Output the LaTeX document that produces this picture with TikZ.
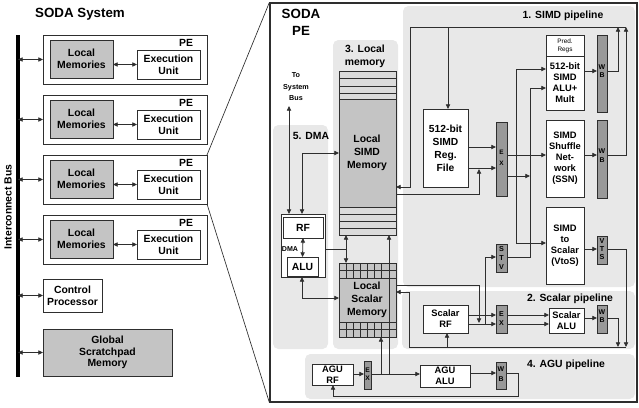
\documentclass[tikz,border=0pt]{standalone}
\usepackage{fontspec}
\setmainfont{Liberation Sans}
\usetikzlibrary{arrows.meta}
\definecolor{regc}{gray}{0.91}
\definecolor{memc}{gray}{0.77}
\definecolor{stripc}{gray}{0.86}
\definecolor{barc}{gray}{0.6}
\definecolor{linec}{gray}{0.18}
\newcommand\sodaT{\fontsize{10}{12.75}\selectfont\bfseries}
\newcommand\sodaA{\fontsize{7.8}{8.8}\selectfont\bfseries}
\newcommand\sodaM{\fontsize{7.8}{9.6}\selectfont\bfseries}
\newcommand\sodaB{\fontsize{7}{8.3}\selectfont\bfseries}
\newcommand\sodaS{\fontsize{5.4}{8.6}\selectfont\bfseries}
\newcommand\sodaP{\fontsize{4.8}{6}\selectfont}
\newcommand\sodaD{\fontsize{5.3}{6}\selectfont\bfseries}
\begin{document}
\begin{tikzpicture}[x=0.75pt,y=-0.75pt,
  >={Triangle[length=3.5pt,width=3.2pt]},
  box/.style={draw=linec, line width=0.6pt, inner sep=0pt, outer sep=0pt, align=center, font=\sodaA, fill=white},
  bar/.style={draw=linec, line width=0.6pt, fill=barc, inner sep=0pt, outer sep=0pt},
  sz/.style 2 args={minimum width=#1*0.75pt, minimum height=#2*0.75pt},
  ln/.style={draw=linec, line width=0.6pt},
  bt/.style={inner sep=0pt, align=center},
  reg/.style={fill=regc, rounded corners=4pt}]
\useasboundingbox (0,0) rectangle (639,407);

% ---------------- left: SODA system ----------------
\node[font=\sodaT] (systitle) at (80,14) {SODA System};
\coordinate (bus) at (18,0);
\draw[line width=2.3pt, black] (18,35) -- (18,377);
\node[rotate=90, font=\sodaA] (buslabel) at (8,207) {Interconnect Bus};

\foreach \i/\T in {1/35,2/95,3/155,4/215}{
  \node[box, sz={164}{49}] (pe\i) at (125,\T+24.5) {};
  \node[box, fill=memc, sz={63}{38}] (lm\i) at (81.5,\T+24) {Local\\Memories};
  \node[box, sz={63}{29}] (ex\i) at (168.5,\T+29.5) {Execution\\Unit};
  \node[font=\sodaA, inner sep=0pt] (pel\i) at (186,\T+8) {PE};
  \draw[ln,<->] (bus |- pe\i.west) -- (pe\i.west);
  \draw[ln,<->] (lm\i.east |- ex\i.center) -- (ex\i.west);
}
\node[box, sz={59}{33}] (cp) at (72.5,295.5) {Control\\Processor};
\draw[ln,<->] (bus |- cp.west) -- (cp.west);
\node[box, fill=memc, sz={129}{47}] (gsm) at (107.5,352.5) {Global\\Scratchpad\\Memory};
\draw[ln,<->] (bus |- gsm.west) -- (gsm.west);

% ---------------- right: SODA PE ----------------
\node[draw=linec, line width=0.9pt, inner sep=0pt, sz={367}{399}] (pebig) at (453.5,202.5) {};
\draw[linec, line width=0.5pt] (pe3.north east) -- (pebig.north west);
\draw[linec, line width=0.5pt] (pe3.south east) -- (pebig.south west);

% regions
\fill[reg] (403,6) rectangle (635,287);
\fill[reg] (402,291) rectangle (635,349);
\fill[reg] (305,354) rectangle (635,399);
\fill[reg] (333,40) rectangle (398,349);
\fill[reg] (273,125) rectangle (328,349);

\node[font=\sodaT, align=center] (petitle) at (301,22.5) {SODA\\PE};
\node[font=\sodaA] (l1) at (563,16) {1. SIMD pipeline};
\node[font=\sodaM, align=center] (l3) at (365,56) {3. Local\\memory};
\node[font=\sodaS, align=center] (tsb) at (296,87) {To\\System\\Bus};
\node[font=\sodaA] (l5) at (311,136) {5. DMA};
\node[font=\sodaA] (l2) at (570,299) {2. Scalar pipeline};
\node[font=\sodaA] (l4) at (566,365) {4. AGU pipeline};

% Local SIMD memory
\fill[stripc] (339,71) rectangle (396,99);
\fill[memc] (339,99) rectangle (396,207);
\fill[stripc] (339,207) rectangle (396,235);
\foreach \y in {78.5,86,93.5,99,207,214,221,228}
  \draw[linec, line width=0.5pt] (339,\y) -- (396,\y);
\node[draw=linec, line width=0.6pt, inner sep=0pt, sz={57}{164}] (simdmem) at (367.5,153) {};
\node[font=\sodaM, align=center] (simdmemt) at (367,153) {Local\\SIMD\\Memory};

% Local scalar memory
\node[draw=linec, line width=0.6pt, fill=memc, inner sep=0pt, sz={57}{74}] (scalmem) at (367.5,300) {};
\foreach \y in {270.5,278,322,329.5}
  \draw[linec, line width=0.5pt] (339,\y) -- (396,\y);
\foreach \k in {1,...,7}{
  \draw[linec, line width=0.5pt] (339+\k*7.125,263) -- (339+\k*7.125,278);
  \draw[linec, line width=0.5pt] (339+\k*7.125,322) -- (339+\k*7.125,337);
}
\node[font=\sodaM, align=center] (scalmemt) at (367,300) {Local\\Scalar\\Memory};

% DMA
\node[box, sz={44}{63}] (dma) at (303,245.5) {};
\node[box, sz={40}{21}] (dmarf) at (303,227.5) {RF};
\node[box, sz={31}{19}] (dmaalu) at (302.5,266.5) {ALU};
\node[font=\sodaD, inner sep=0pt] (dmal) at (290,249) {DMA};

% SIMD pipeline
\node[box, sz={45}{78}, font=\fontsize{7.7}{9.75}\selectfont\bfseries] (srf) at (445.5,148) {512-bit\\SIMD\\Reg.\\File};
\node[bar, sz={11}{74}] (sex) at (501.5,159) {};
\node[box, sz={38}{21}, font=\sodaP] (pred) at (565,45.5) {Pred.\\Regs};
\node[box, sz={38}{54}, font=\sodaB] (salu) at (565,83) {512-bit\\SIMD\\ALU+\\Mult};
\node[box, sz={38}{77}, font=\sodaB] (ssn) at (565,158.5) {SIMD\\Shuffle\\Net-\\work\\(SSN)};
\node[box, sz={38}{77}, font=\sodaB] (vtos) at (565,245.5) {SIMD\\to\\Scalar\\(VtoS)};
\node[bar, sz={10}{77}] (wb1) at (602,73.5) {};
\node[bar, sz={10}{78}] (wb2) at (602,159) {};
\node[bar, sz={10}{28}] (vts) at (602,250) {};
\node[bar, sz={11}{28}] (stv) at (501.5,258) {};

% Scalar pipeline
\node[box, sz={45}{28}, font=\sodaB] (scrf) at (445.5,319) {Scalar\\RF};
\node[bar, sz={11}{28}] (scex) at (501.5,319) {};
\node[box, sz={35}{25}, font=\sodaB] (scalu) at (566.5,320.5) {Scalar\\ALU};
\node[bar, sz={10}{28}] (scwb) at (602,319) {};

% AGU pipeline
\node[box, sz={41}{21}, font=\sodaB] (agrf) at (332.5,374.5) {AGU\\RF};
\node[bar, sz={7}{28}] (agex) at (367.5,375) {};
\node[box, sz={50}{22}, font=\sodaB] (agalu) at (445,376) {AGU\\ALU};
\node[bar, sz={10}{27}] (agwb) at (501,375.5) {};

% bar letters
\node[bt, font=\fontsize{4.8}{8.25}\selectfont\bfseries] (sext) at (501.5,157.5) {E\\X};
\node[bt, font=\fontsize{5.2}{6.2}\selectfont\bfseries] (wb1t) at (602,71) {W\\B};
\node[bt, font=\fontsize{5.2}{6.2}\selectfont\bfseries] (wb2t) at (602,155.5) {W\\B};
\node[bt, font=\fontsize{5.4}{6.2}\selectfont\bfseries] (vtst) at (602,249) {V\\T\\S};
\node[bt, font=\fontsize{5.4}{6.75}\selectfont\bfseries] (stvt) at (501.5,258) {S\\T\\V};
\node[bt, font=\fontsize{5.3}{7}\selectfont\bfseries] (scext) at (501.5,318.5) {E\\X};
\node[bt, font=\fontsize{5.2}{6.2}\selectfont\bfseries] (scwbt) at (602,316) {W\\B};
\node[bt, font=\fontsize{5}{6.2}\selectfont\bfseries] (agext) at (367.5,374) {E\\X};
\node[bt, font=\fontsize{5.2}{7.5}\selectfont\bfseries] (agwbt) at (501,374) {W\\B};

% ---------------- connectors ----------------
% SIMD write-back and register file
\draw[ln,->] (607,71) -| (618,27);
\draw[ln,->] (607,155) -| (626,27);
\draw[ln,->] (626,27) -- (410,27) -- (410,187) -- (396,187);
\draw[ln,->] (448,27) -- (448,109);
\draw[ln,->] (468,147) -- (496,147);
\draw[ln,->] (468,168) -- (496,168);
\draw[ln,->] (396,194) -| (479,169);
\draw[ln,->] (507,155) -- (546,155);
\draw[ln,->] (507,176) -- (530,176);
\draw[ln,->] (516,155) |- (546,69);
\draw[ln,->] (516,155) |- (546,243);
\draw[ln,->] (507,257) -- (530,257) -- (530,88) -- (546,88);
\draw[ln,->] (584,71) -- (597,71);
\draw[ln,->] (584,155) -- (597,155);
\draw[ln,->] (584,249) -- (597,249);
\draw[ln,->] (607,249) -| (626,347);
\draw[ln,->] (485,324) |- (496,257);

% Scalar
\draw[ln,->] (468,315) -- (496,315);
\draw[ln,->] (468,324) -- (496,324);
\draw[ln,->] (507,315) -- (549,315);
\draw[ln,->] (507,324) -- (549,324);
\draw[ln,->] (584,318) -- (597,318);
\draw[ln,->] (607,318) -| (618,347);
\draw[ln,->] (626,347) -- (409,347) -- (409,292) -- (396,292);
\draw[ln,->] (447,347) -- (447,333);
\draw[ln,->] (396,285) -| (479,323);

% Memory and DMA
\draw[ln,<->] (289,214) -- (289,106);
\draw[ln,<->] (302,214) |- (339,153);
\draw[ln,<->] (dmarf.south) -- (dmaalu.north);
\draw[ln] (325,249) -- (346,249);
\draw[ln,->] (346,249) -- (346,235);
\draw[ln,->] (346,249) -- (346,263);
\draw[ln,<->] (302,277) |- (339,298);

% AGU
\draw[ln,->] (353,374) -- (364,374);
\draw[ln,->] (371,374) -- (420,374);
\draw[ln,->] (381,374) -- (381,337);
\draw[ln,->] (389,374) -- (389,235);
\draw[ln,->] (470,373) -- (496,373);
\draw[ln,->] (506,373) -| (518,396) -| (333,385);
\end{tikzpicture}
\end{document}
